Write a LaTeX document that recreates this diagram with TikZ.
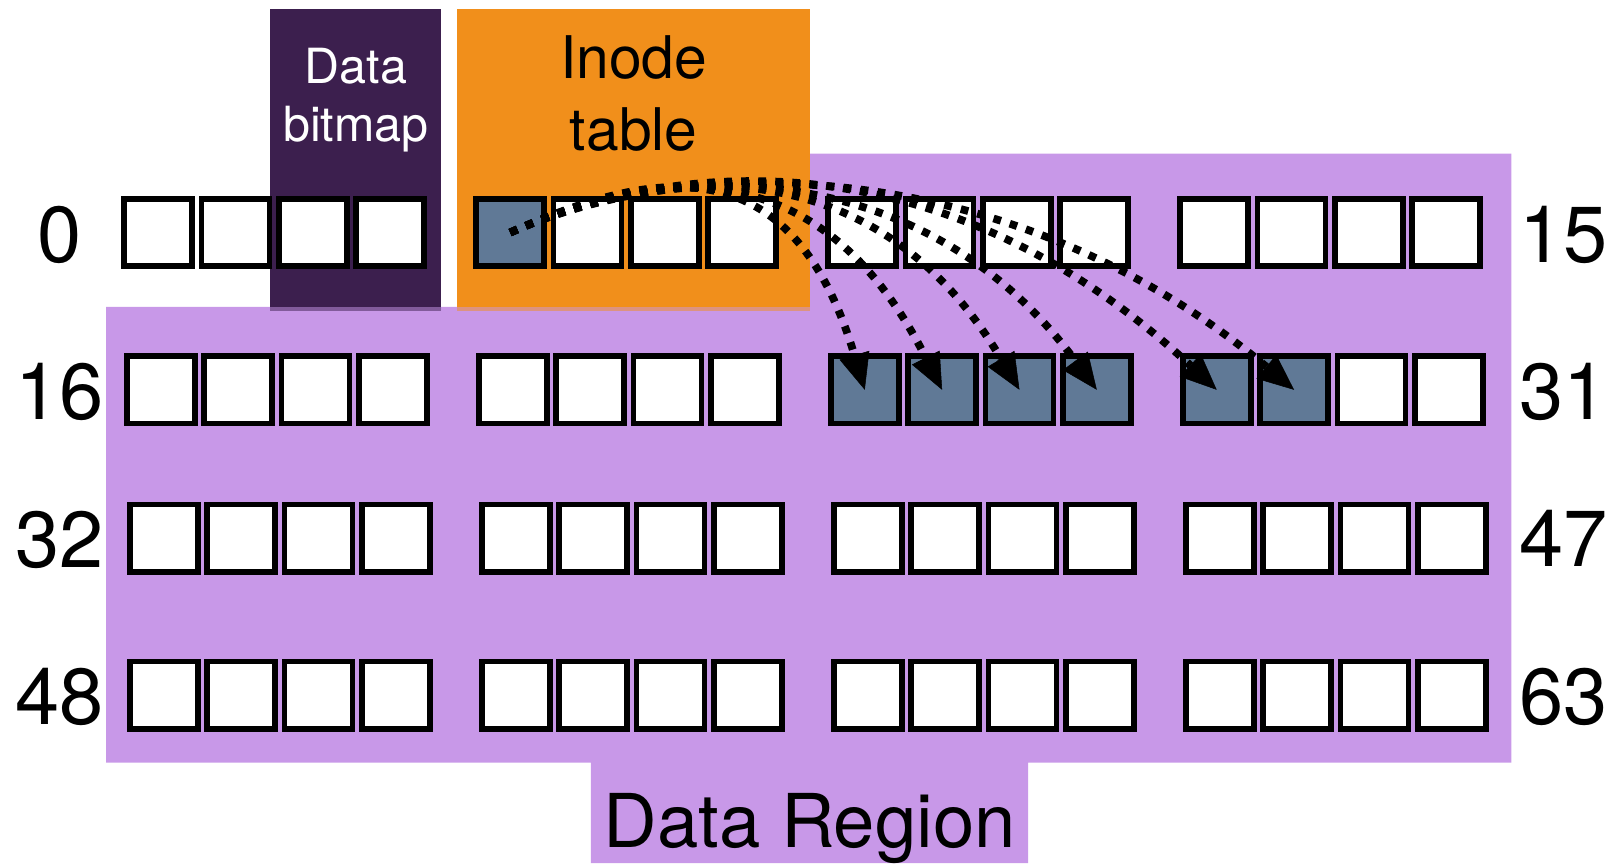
\documentclass[tikz,border=0pt]{standalone}
\usepackage{fontspec}
\setmainfont{TeX Gyre Heros}
\usetikzlibrary{arrows.meta}
\definecolor{lpurple}{RGB}{200,152,232}
\definecolor{dpurple}{RGB}{60,31,78}
\definecolor{iorange}{RGB}{241,143,27}
\definecolor{slate}{RGB}{96,121,150}
\begin{document}
\begin{tikzpicture}[x=1pt,y=-1pt,
  blk/.style={draw=black, line width=5.5pt, minimum width=66pt, minimum height=65.5pt, inner sep=0pt, outer sep=0pt},
  num/.style={font=\fontsize{77}{80}\selectfont, inner sep=0pt, anchor=base},
  conn/.style={line width=7.5pt, dash pattern=on 7.5pt off 9pt, -{Triangle[length=35pt,width=30pt,line width=0.5pt]}},
]
\useasboundingbox (0,0) rectangle (1568,837);
% data region background
\fill[lpurple] (103,297.6) -- (785,297.6) -- (785,149) -- (1465.5,149) -- (1465.5,739.5)
  -- (997,739.5) -- (997,837) -- (573,837) -- (573,739.5) -- (103,739.5) -- cycle;
% data bitmap and inode table regions
\fill[dpurple] (262,9) rectangle (428,302);
\fill[iorange] (443,9) rectangle (785,302);
\fill[lpurple, opacity=0.5] (262,297.6) rectangle (428,302);
\fill[lpurple, opacity=0.5] (443,297.6) rectangle (785,302);
% blocks
\foreach \r/\xo/\yc in {0/117.7/225.5, 1/120.2/378, 2/123.2/522, 3/123.2/674.3} {
  \foreach \g in {0,...,3} {
    \foreach \i in {0,...,3} {
      \pgfmathtruncatemacro\n{16*\r+4*\g+\i}
      \pgfmathtruncatemacro\isS{(\n==4)||((\n>=24)&&(\n<=29))}
      \ifnum\isS=1 \def\fc{slate}\else\def\fc{white}\fi
      \node[blk, fill=\fc] (b\n) at ({\xo+341.3*\g+75*\i+35.75}, \yc) {};
    }
  }
}
% row numbers
\node[num] (l0) at (58,255) {0};
\node[num] (l16) at (58,407) {16};
\node[num] (l32) at (58,550) {32};
\node[num] (l48) at (58,703) {48};
\node[num] (r15) at (1516,255) {15};
\node[num] (r31) at (1516,407) {31};
\node[num] (r47) at (1516,549) {47};
\node[num] (r63) at (1516,703) {63};
% region titles
\node[text=white, align=center, inner sep=0pt, font=\fontsize{47}{56}\selectfont] (tbm) at (345,97) {Data\\bitmap};
\node[text=black, align=center, inner sep=0pt, font=\fontsize{57}{70}\selectfont] (tit) at (614.5,90.5) {Inode\\table};
\node[text=black, inner sep=0pt, anchor=base, font=\fontsize{72}{76}\selectfont] (tdr) at (785,822) {Data Region};
% pointers from inode to data blocks
\draw[conn] (b4.center) .. controls (632,164) and (767,138) .. (b24.center);
\draw[conn] (b4.center) .. controls (641,160) and (796,146) .. (b25.center);
\draw[conn] (b4.center) .. controls (650,156) and (851,146) .. (b26.center);
\draw[conn] (b4.center) .. controls (659,152) and (897,153) .. (b27.center);
\draw[conn] (b4.center) .. controls (668,148) and (923,140) .. (b28.center);
\draw[conn] (b4.center) .. controls (677,144) and (986,154) .. (b29.center);
\end{tikzpicture}
\end{document}
